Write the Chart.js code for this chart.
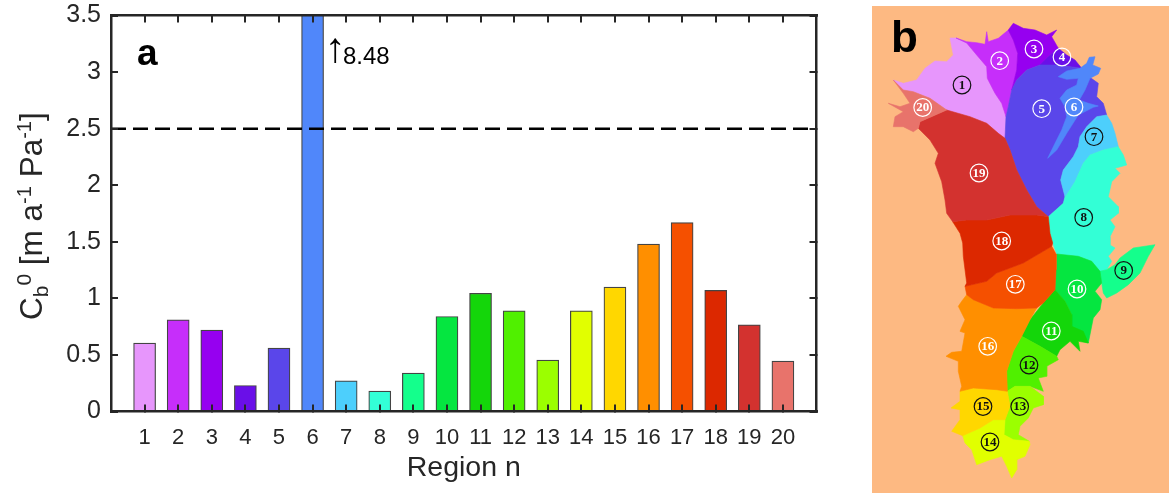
<!DOCTYPE html>
<html><head><meta charset="utf-8">
<script src="https://cdn.jsdelivr.net/npm/chart.js@4/dist/chart.umd.min.js"></script>
<style>
html,body{margin:0;padding:0;background:#fff;width:1169px;height:493px;overflow:hidden}
#wa{position:absolute;left:0;top:0;width:860px;height:493px}
#wb{position:absolute;left:872px;top:6px;width:297px;height:487px}
</style></head><body>
<div id="wa"><canvas id="a"></canvas></div>
<div id="wb"><canvas id="b"></canvas></div>
<script>
const regions=[1,2,3,4,5,6,7,8,9,10,11,12,13,14,15,16,17,18,19,20];
const cb0=[0.605,0.81,0.72,0.23,0.56,8.48,0.27,0.18,0.34,0.84,1.045,0.89,0.455,0.89,1.10,1.48,1.67,1.07,0.765,0.445];
const colors=['#E796FC','#C62EFA','#9600F0','#6A0FE8','#5A46EA','#5087FA','#4DCFFC','#33FFD6','#14FF8C','#05E640','#14D60A','#50F000','#9BFF00','#E1FF00','#FFD700','#FF8F00','#F55000','#DC2800','#D3322F','#E8736B'];
const threshold=2.5;
const yTicks=[0,0.5,1,1.5,2,2.5,3,3.5];

// map outlines, in the map's own coordinates
const outline1=[950,38,956,38,966.7,43,976.7,55,986.7,66.7,987.3,78.3,995,93.3,1001.7,103.3,1006,116.7,1005,138.3,998.3,133.3,986.7,123.3,970,116.7,946.7,110,930,98.3,913.3,91.7,903.3,90,893.3,80,903.3,83.3,916.7,80,925,68.3,935,61,946.7,61.7,953.3,55];
const outline2=[956,38,966.7,41.7,976.7,42.7,985,44.3,986.7,31.7,988.3,41.7,998.3,38.3,1008.3,30,1013.3,40,1017.7,53.3,1016.7,70,1011.7,90,1008.3,106.7,1006,116.7,1001.7,103.3,995,93.3,987.3,78.3,986.7,66.7,976.7,55,966.7,43];
const outline3=[1008.3,30,1013.3,23.3,1023.3,28.3,1035,30,1046.7,35,1056.7,30,1051.7,36.7,1058.3,48.3,1048.3,56.7,1040,65,1026.7,70,1016.7,80,1011.7,90,1016.7,70,1017.7,53.3,1013.3,40];
const outline4=[1058.3,48.3,1066.7,55,1075,60,1081.7,68.3,1070,66.7,1056.7,65,1040,65,1048.3,56.7];
const outline5=[1040,65,1056.7,65,1070,66.7,1081.7,68.3,1086.7,75,1098.3,83.3,1096.7,96.7,1103.3,103.3,1106.7,115,1096.7,116.7,1086.7,126.7,1080,136.7,1078.3,146.7,1073.3,156.7,1063.3,170,1060.7,180,1065,196.7,1063.3,203.3,1048.3,216.7,1036.7,206.7,1026.7,190,1016.7,170,1010,150,1005,138.3,1006,116.7,1008.3,106.7,1011.7,90,1016.7,80,1026.7,70];
const outline6=[1047.7,158.3,1055,143.3,1061.7,130,1066.7,116.7,1065,106.7,1060,98.3,1066.7,90,1076.7,85,1078.3,78.3,1066.7,79.3,1058.3,76.7,1066.7,71,1080,68.3,1086.7,63.3,1089.3,57.3,1095,56.7,1092.7,65,1100.7,68.3,1098.3,74,1090,78.3,1085,90,1079.3,100,1088.3,103.3,1098.3,106,1093.3,107.3,1078.3,115,1066.7,133.3,1056.7,150];
const outline7=[1106.7,115,1111.7,123.3,1115,133.3,1118.3,146.7,1103.3,150,1090,155,1083.3,163.3,1075,181.7,1066.7,195,1065,196.7,1060.7,180,1063.3,170,1073.3,156.7,1078.3,146.7,1080,136.7,1086.7,126.7,1096.7,116.7];
const outline8=[1118.3,146.7,1123.3,155,1126.7,165,1115,168.3,1120,173.3,1111.7,181.7,1108.3,196.7,1118.3,206.7,1118.3,213.3,1110,220,1115,226.7,1110,236.7,1110,245,1115,248,1108.3,256.3,1111.7,261.3,1106.7,269.7,1100,271.3,1091.7,261.3,1078.3,256.3,1056.7,254,1052.7,243,1050,233.3,1048.3,216.7,1063.3,203.3,1065,196.7,1066.7,195,1075,181.7,1083.3,163.3,1090,155,1103.3,150];
const outline9=[1106.7,269.7,1115,264.7,1120,258,1133.3,248,1155,244.7,1148.3,256.3,1140,273,1128.3,284.7,1116.7,293,1106.7,298,1103.3,293,1101.7,283,1100,271.3];
const outline10=[1056.7,254,1078.3,256.3,1091.7,261.3,1100,271.3,1101.7,283,1095,291.3,1101.7,299.7,1100,309.7,1093.3,318,1088.3,343,1078.3,339.7,1071.7,326.3,1071.7,314.7,1065,301.3,1055,289.7,1056,269.7];
const outline11=[1055,289.7,1065,301.3,1071.7,314.7,1071.7,326.3,1083.3,331.3,1088.3,343,1078.3,341.3,1080,351.3,1070,341.3,1060,349.7,1056.7,356.3,1040,346.3,1021.7,336.3,1030,319.7,1043.3,303];
const outline12=[1021.7,336.3,1040,346.3,1056.7,356.3,1058.3,359.7,1046.7,366.3,1046.7,376.3,1038.3,378,1043.3,391.3,1030,386.3,1015,386.3,1007.3,391.3,1006.7,371.3,1013.3,351.3];
const outline13=[1007.3,391.3,1015,386.3,1030,386.3,1043.3,396.3,1043.3,404.7,1033.3,408,1028.3,418,1020,426.3,1018.3,434.7,1029.3,441.3,1013.3,439.7,1004,434.7,1005,419.7,1010,406.3];
const outline14=[962.7,435.7,980,428,993.3,419.7,1005,419.7,1004,434.7,1013.3,439.7,1029.3,441.3,1030,444.7,1025,456.3,1016.7,459.7,1016.7,469.7,1011.7,478,1006.7,466.3,1001.7,456.3,990,459.7,976.7,464.7,971.7,449.7,965,443];
const outline15=[960,391.3,973.3,388,996.7,389.7,1007.3,391.3,1010,406.3,1005,419.7,993.3,419.7,980,428,962.7,435.7,951.7,431.3,960,419.7,960,409.7,951,408,960,401.3];
const outline16=[966.7,294.7,973.3,299.7,993.3,308,1016.7,308.7,1036.7,308,1030,319.7,1021.7,336.3,1013.3,351.3,1006.7,371.3,1007.3,391.3,996.7,389.7,973.3,388,960,391.3,961.7,386.3,958.3,371.3,958.3,361.3,946,356.3,951.7,352.3,961.7,351.3,965,333,960,331.3,965,319.7,958.3,306.3,961.7,301.3];
const outline17=[965,286.3,986.7,281.3,996.7,273,1023.3,263,1051.7,246.3,1056,254,1056,269.7,1055,289.7,1043.3,303,1036.7,308,1016.7,308.7,993.3,308,973.3,299.7,966.7,294.7];
const outline18=[952.7,221.7,966.7,220,986.7,220,1010,215,1036.7,215,1048.3,216.7,1050,233.3,1052.7,243,1051.7,246.3,1023.3,263,996.7,273,986.7,281.3,965,286.3,966.7,283,963.3,256.3,962.7,243,960,233.3];
const outline19=[946.7,110,970,116.7,986.7,123.3,998.3,133.3,1005,138.3,1010,150,1016.7,170,1026.7,190,1036.7,206.7,1048.3,216.7,1036.7,215,1010,215,986.7,220,966.7,220,952.7,221.7,946.7,213.3,945,200,941.7,181.7,935,163.3,938.3,153.3,930,140,918.3,128.3,920,121.7];
const outline20=[893.3,80,903.3,90,913.3,91.7,930,98.3,946.7,110,920,121.7,918.3,128.3,913.3,131.7,903.3,126.7,893.3,126.7,895,116.7,903.3,111.7,888.3,103.3,900,106.7,910,103.3,903.3,93.3];
const outlines=[outline1,outline2,outline3,outline4,outline5,outline7,outline8,outline9,outline10,outline11,outline12,outline13,outline14,outline15,outline16,outline17,outline18,outline19,outline20,outline6];
const outlineColors=[0,1,2,3,4,6,7,8,9,10,11,12,13,14,15,16,17,18,19,5];
const labelX=[962,999.7,1034,1062,1041.7,1074,1094,1083.7,1123.7,1077,1051.3,1029,1019.7,990,983,987.7,1015.3,1001.7,979,922.7];
const labelY=[85,60.7,49,57,108.7,107,136.7,217.5,270.5,289,331,365,406.5,442,406.5,346.3,284.3,241,173,107.5];
const labelDark=[1,0,0,0,0,0,1,1,1,0,0,1,1,1,1,0,0,0,0,0];

const FONT='"Liberation Sans", Arial, sans-serif';
const INK='#262626';
Chart.defaults.animation=false;
Chart.defaults.responsive=true;
Chart.defaults.maintainAspectRatio=false;

function rangeTicks(s){s.ticks=regions.map(v=>({value:v}));}
function noPadding(s){s.paddingLeft=0;s.paddingRight=0;s.paddingTop=0;s.paddingBottom=0;}
const innerGrid={drawOnChartArea:false,drawTicks:true,tickLength:-7,color:INK,lineWidth:2,z:1,offset:false};
const border={color:INK,width:2.5,z:2};

const annotate={id:'annotate',afterDraw(c){
  const x=c.ctx;x.save();x.fillStyle='#000';x.textBaseline='alphabetic';
  x.font='bold 37px '+FONT;x.fillText('a',137,65);
  x.font='24px '+FONT;x.fillText('8.48',343,64);
  x.font='42px "Liberation Sans"';x.textAlign='center';x.fillText('\u2191',335,62);
  x.restore();
  x.save();x.translate(42,320);x.rotate(-Math.PI/2);x.fillStyle=INK;x.textBaseline='alphabetic';
  const parts=[['C',31.5,0],['b',21,6],['0',21,-11],[' [m a',31.5,0],['-1',20,-11],[' Pa',31.5,0],['-1',20,-11],[']',31.5,0]];
  let p=0;
  for(const [t,sz,dy] of parts){x.font=sz+'px '+FONT;x.fillText(t,p,dy);p+=x.measureText(t).width;}
  x.restore();
}};

new Chart(document.getElementById('a'),{
  data:{datasets:[
    {type:'line',label:'threshold',data:[{x:0,y:threshold},{x:21,y:threshold}],borderColor:'#000',borderWidth:2.5,borderDash:[15,7],pointRadius:0,order:0},
    {type:'bar',label:'Cb0',data:regions.map((r,i)=>({x:r,y:cb0[i]})),backgroundColor:colors,borderColor:'#444',borderWidth:1.2,barThickness:22,order:1}
  ]},
  options:{
    layout:{autoPadding:false,padding:{top:15.5,right:43.5,left:0,bottom:0}},
    plugins:{legend:{display:false},tooltip:{enabled:false}},
    scales:{
      x:{type:'linear',position:'bottom',offset:false,min:0,max:21,afterBuildTicks:rangeTicks,afterFit(s){s.height=81.5;noPadding(s);},
        grid:innerGrid,border,
        ticks:{color:INK,font:{size:22,family:FONT},padding:20.5,maxRotation:0,autoSkip:false,callback:v=>String(v)},
        title:{display:true,text:'Region n',color:INK,font:{size:28.5,family:FONT},padding:{top:0,bottom:8}}},
      x2:{type:'linear',position:'top',offset:false,min:0,max:21,afterBuildTicks:rangeTicks,afterFit(s){s.height=0;noPadding(s);},
        grid:innerGrid,border,ticks:{display:false}},
      y:{type:'linear',position:'left',min:0,max:3.5,afterBuildTicks(s){s.ticks=yTicks.map(v=>({value:v}));},afterFit(s){s.width=111;noPadding(s);},
        grid:innerGrid,border,
        ticks:{color:INK,font:{size:25,family:FONT},padding:17,callback:v=>String(v)}},
      y2:{type:'linear',position:'right',min:0,max:3.5,afterBuildTicks(s){s.ticks=yTicks.map(v=>({value:v}));},afterFit(s){s.width=0;noPadding(s);},
        grid:innerGrid,border,ticks:{display:false}}
    }
  },
  plugins:[annotate]
});

const circleText={id:'circleText',afterDraw(c){
  const x=c.ctx;x.save();x.textAlign='center';x.textBaseline='middle';
  regions.forEach((r,i)=>{
    x.fillStyle=labelDark[i]?'#111':'#fff';
    x.font='bold 13px "Liberation Serif", serif';
    x.fillText(String(r),c.scales.x.getPixelForValue(labelX[i]),c.scales.y.getPixelForValue(labelY[i])+0.5);
  });
  x.fillStyle='#000';x.font='bold 44px '+FONT;x.textAlign='left';x.textBaseline='alphabetic';
  x.fillText('b',c.scales.x.getPixelForValue(891),c.scales.y.getPixelForValue(52));
  x.restore();
}};
const toPoints=a=>{const o=[];for(let i=0;i<a.length;i+=2)o.push({x:a[i],y:a[i+1]});o.push({x:a[0],y:a[1]});return o;};
new Chart(document.getElementById('b'),{
  type:'scatter',
  data:{datasets:[
    {label:'labels',data:labelX.map((v,i)=>({x:v,y:labelY[i]})),pointRadius:8.8,pointBackgroundColor:'rgba(0,0,0,0)',pointBorderColor:labelDark.map(d=>d?'#111':'#fff'),pointBorderWidth:1.2,showLine:false,clip:false,order:0},
    ...outlines.map((o,i)=>({label:'region',data:toPoints(o),showLine:true,fill:'shape',tension:0,backgroundColor:colors[outlineColors[i]],borderColor:colors[outlineColors[i]],borderWidth:0.6,pointRadius:0,order:outlines.length-i}))
  ]},
  options:{
    layout:{autoPadding:false,padding:0},
    plugins:{legend:{display:false},tooltip:{enabled:false}},
    scales:{
      x:{type:'linear',display:false,min:872,max:1169},
      y:{type:'linear',display:false,min:6,max:493,reverse:true}
    }
  },
  plugins:[{id:'bg',beforeDraw(c){c.ctx.save();c.ctx.fillStyle='#FDB982';c.ctx.fillRect(0,0,c.width,c.height);c.ctx.restore();}},circleText]
});
</script>
</body></html>
